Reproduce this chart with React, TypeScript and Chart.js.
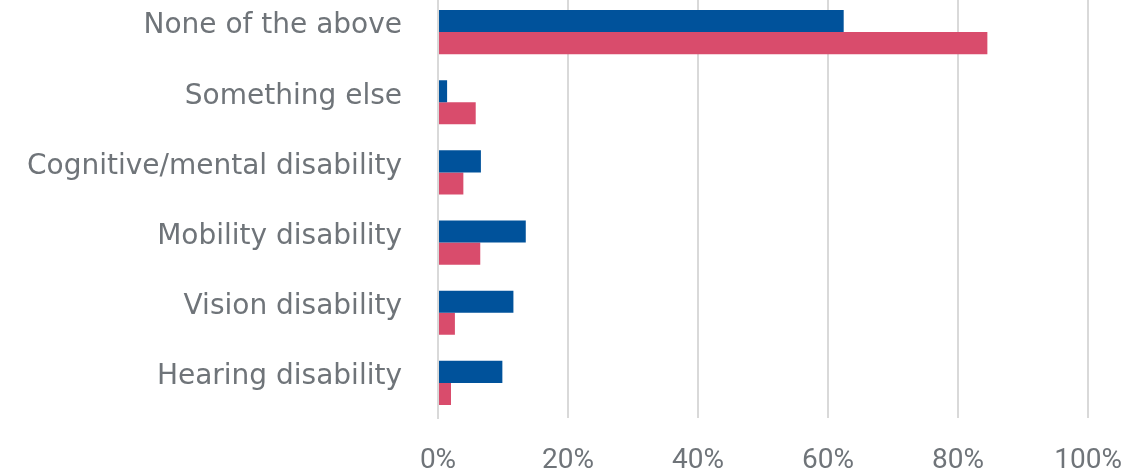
import React, { useEffect, useRef } from "react";
import { Chart, registerables } from "chart.js";

Chart.register(...registerables);

const categories = [
  "None of the above",
  "Something else",
  "Cognitive/mental disability",
  "Mobility disability",
  "Vision disability",
  "Hearing disability",
];
const seriesBlueName = "Series 1";
const seriesBlue = [62.4, 1.4, 6.6, 13.5, 11.6, 9.9];
const seriesPinkName = "Series 2";
const seriesPink = [84.5, 5.8, 3.9, 6.5, 2.6, 2.0];
const xTicks = [0, 20, 40, 60, 80, 100];

const Y_FONT = "'DejaVu Sans', sans-serif";
const X_FONT = "'Liberation Sans Narrow', Roboto, sans-serif";
const TEXT = "#6f7479";
const GRID = "#d9d9d9";

export default function App() {
  const ref = useRef<HTMLCanvasElement | null>(null);
  useEffect(() => {
    if (!ref.current) return;
    const chart = new Chart(ref.current, {
      type: "bar",
      data: {
        labels: categories,
        datasets: [
          { label: seriesBlueName, data: seriesBlue, backgroundColor: "#00529b" },
          { label: seriesPinkName, data: seriesPink, backgroundColor: "#d94c6c" },
        ],
      },
      options: {
        indexAxis: "y",
        animation: false,
        responsive: false,
        maintainAspectRatio: false,
        layout: { padding: { left: 0, right: 30, top: 0, bottom: 0 } },
        datasets: {
          bar: { barPercentage: 1, categoryPercentage: 0.63 },
        },
        plugins: { legend: { display: false }, tooltip: { enabled: false } },
        scales: {
          x: {
            min: 0,
            max: 100,
            afterBuildTicks: (scale: any) => {
              scale.ticks = xTicks.map((v) => ({ value: v }));
            },
            afterFit: (scale: any) => {
              scale.height = 55;
              scale.paddingTop = 0;
              scale.paddingBottom = 0;
            },
            grid: { color: GRID, lineWidth: 2, drawTicks: false },
            border: { display: false },
            ticks: {
              padding: 26,
              color: TEXT,
              font: { family: X_FONT, size: 28 },
              callback: (v: any) => v + "%",
            },
          },
          y: {
            grid: { display: false, drawTicks: false },
            border: { display: true, color: GRID, width: 2 },
            afterFit: (scale: any) => {
              scale.width = 438;
              scale.paddingTop = 0;
              scale.paddingBottom = 0;
            },
            ticks: {
              padding: 36,
              labelOffset: -6,
              color: TEXT,
              font: { family: Y_FONT, size: 28 },
            },
          },
        },
      },
    });
    return () => chart.destroy();
  }, []);
  return (
    <div style={{ position: "absolute", left: 0, top: -3, width: 1148, height: 476 }}>
      <canvas ref={ref} width={1148} height={476} style={{ display: "block" }} />
    </div>
  );
}
